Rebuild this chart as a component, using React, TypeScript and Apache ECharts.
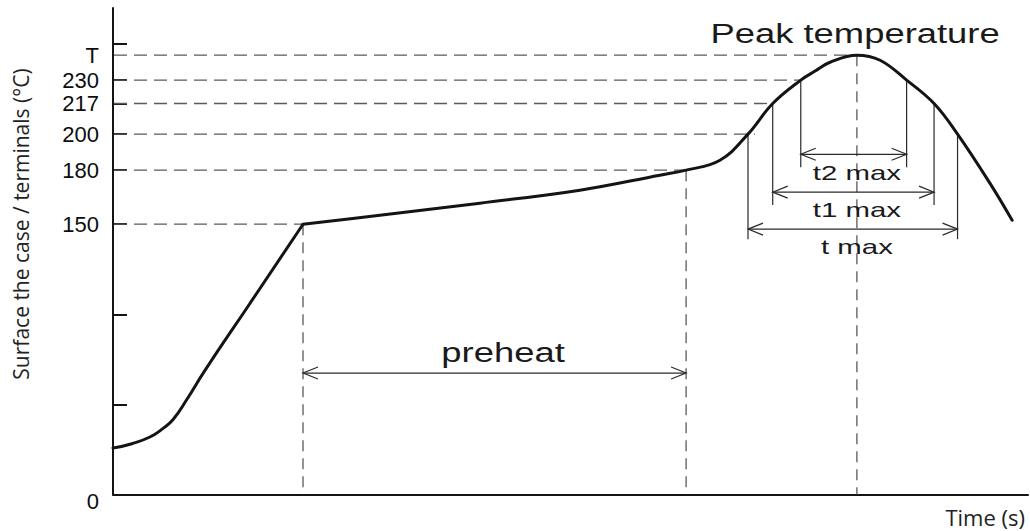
import React, { useEffect, useRef } from "react";
import * as echarts from "echarts";

// Reflow profile (time in arbitrary seconds, temperature in °C)
// Ramp-up part (ends at the start of preheat)
const rampTime = [0, 6.2, 12.1, 16.1, 19.7, 24.3, 30.0, 45.0, 62.3];
const rampTemp = [25.8, 28.2, 31.9, 36.3, 41.6, 53.0, 68.5, 106.3, 150];
// Preheat, reflow and cool-down part
const reflowTime = [62.3, 87.5, 120.3, 153.1, 179.3, 187.9, 199.0, 208.2, 216.3, 225.5, 230.2, 235.1, 243.9, 251.5, 260.2, 269.2, 276.9, 287.5, 294.8];
const reflowTemp = [150, 155.0, 161.7, 168.9, 177.2, 180, 185.5, 200, 217, 230, 235.0, 239.9, 243.8, 241.0, 230, 217, 200, 172.8, 152.2];

const peakTime = 243.9;
const peakTemp = 243.8;

// Y axis
const yTickValues = [50, 100, 150, 180, 200, 217, 230, 250];
const yLabelValues = [0, 150, 180, 200, 217, 230, peakTemp];

// Dashed horizontal guides: level and time where they end
const guideTemp = [150, 180, 200, 217, 230, peakTemp];
const guideTime = [62.3, 187.9, 210.5, 216.3, 225.5, peakTime];

// Dashed vertical drops
const dropTime = [62.3, 187.9, peakTime];
const dropTemp = [150, 180, peakTemp];

// Dimension spans
const spanLabels = ["preheat", "t2 max", "t1 max", "t max"];
const spanStart = [62.3, 225.5, 216.3, 208.2];
const spanEnd = [187.9, 260.2, 269.2, 276.9];
const spanLevel = [67.4, 188.8, 167.8, 147.3];
const spanLabelTime = [127.9, 243.9, 243.9, 243.9];
const spanLabelLevel = [79.0, 178.9, 158.3, 137.5];

// Witness lines of the spans
const witnessTime = [225.5, 260.2, 216.3, 269.2, 208.2, 276.9];
const witnessTemp = [230, 230, 217, 217, 200, 200];
const witnessFoot = [181.6, 181.6, 160.6, 160.6, 141.7, 141.7];

// Other annotation
const noteText = ["Peak temperature"];
const noteTime = [243.3];
const noteTemp = [256.0];

const INK = "#141414";
const DASH = "#5a5a5a";
const THIN = "#2a2a2a";
const STRETCH_FONT = "'Liberation Sans', Arial, Helvetica, sans-serif";

export default function App() {
  const ref = useRef<HTMLDivElement>(null);

  useEffect(() => {
    if (!ref.current) return;
    const chart = echarts.init(ref.current, null, { renderer: "svg" });

    const curveStyle = { color: INK, width: 3, cap: "round", join: "round" };

    const option: any = {
      animation: false,
      backgroundColor: "#ffffff",
      grid: { left: 113, right: 2, top: 8, bottom: 36.5, containLabel: false },
      xAxis: {
        type: "value",
        min: 0,
        max: 300,
        axisLine: { show: true, lineStyle: { color: INK, width: 2 } },
        axisTick: { show: false },
        axisLabel: { show: false },
        splitLine: { show: false },
      },
      yAxis: {
        type: "value",
        min: 0,
        max: 270,
        axisLine: { show: true, lineStyle: { color: INK, width: 2 } },
        axisTick: {
          show: true,
          inside: true,
          length: 14,
          customValues: yTickValues,
          lineStyle: { color: INK, width: 2 },
        },
        axisLabel: {
          show: true,
          customValues: yLabelValues,
          margin: 14,
          fontSize: 22,
          color: "#0d0d0d",
          fontFamily: STRETCH_FONT,
          formatter: (v: number) => (Math.abs(v - peakTemp) < 0.01 ? "T" : v === 0 ? "{z|0}" : String(v)),
          rich: { z: { fontSize: 22, fontFamily: STRETCH_FONT, color: "#0d0d0d", padding: [14, 0, 0, 0] } },
        },
        splitLine: { show: false },
      },
      graphic: [
        {
          type: "text",
          x: 21,
          y: 224,
          rotation: Math.PI / 2,
          style: {
            text: "Surface the case / terminals (°C)",
            fontSize: 21,
            fontFamily: "'Open Sans', sans-serif",
            fill: "#222",
            align: "center",
            verticalAlign: "middle",
          },
        },
        {
          type: "text",
          x: 1025,
          y: 517,
          style: {
            text: "Time (s)",
            fontSize: 22,
            fontFamily: "'Open Sans', sans-serif",
            fill: "#222",
            align: "right",
            verticalAlign: "middle",
          },
        },
      ],
      series: [
        {
          type: "custom",
          name: "guides",
          silent: true,
          data: guideTemp.map((t, i) => [guideTime[i], t]),
          renderItem: (params: any, api: any) => {
            const p = api.coord([api.value(0), api.value(1)]);
            const o = api.coord([0, api.value(1)]);
            return {
              type: "line",
              shape: { x1: o[0] + 1, y1: p[1], x2: p[0], y2: p[1] },
              style: { stroke: DASH, lineWidth: 1.3, lineDash: [13, 7] },
            };
          },
        },
        {
          type: "custom",
          name: "drops",
          silent: true,
          data: dropTime.map((t, i) => [t, dropTemp[i]]),
          renderItem: (params: any, api: any) => {
            const p = api.coord([api.value(0), api.value(1)]);
            const o = api.coord([api.value(0), 0]);
            return {
              type: "line",
              shape: { x1: p[0], y1: p[1], x2: p[0], y2: o[1] },
              style: { stroke: DASH, lineWidth: 1.3, lineDash: [11, 7] },
            };
          },
        },
        {
          type: "custom",
          name: "witness",
          silent: true,
          data: witnessTime.map((t, i) => [t, witnessTemp[i], witnessFoot[i]]),
          renderItem: (params: any, api: any) => {
            const a = api.coord([api.value(0), api.value(1)]);
            const b = api.coord([api.value(0), api.value(2)]);
            return {
              type: "line",
              shape: { x1: a[0], y1: a[1], x2: b[0], y2: b[1] },
              style: { stroke: THIN, lineWidth: 1.2 },
            };
          },
        },
        {
          type: "custom",
          name: "spans",
          silent: true,
          data: spanStart.map((s, i) => [s, spanEnd[i], spanLevel[i], spanLabelTime[i], spanLabelLevel[i]]),
          renderItem: (params: any, api: any) => {
            const i = params.dataIndex;
            const a = api.coord([api.value(0), api.value(2)]);
            const b = api.coord([api.value(1), api.value(2)]);
            const l = api.coord([api.value(3), api.value(4)]);
            const big = i === 0;
            const lineStyle = { stroke: THIN, lineWidth: 1.2, fill: null };
            return {
              type: "group",
              children: [
                { type: "line", shape: { x1: a[0], y1: a[1], x2: b[0], y2: b[1] }, style: lineStyle },
                {
                  type: "polyline",
                  shape: { points: [[a[0] + 15, a[1] - 6], [a[0], a[1]], [a[0] + 15, a[1] + 6]] },
                  style: lineStyle,
                },
                {
                  type: "polyline",
                  shape: { points: [[b[0] - 15, b[1] - 6], [b[0], b[1]], [b[0] - 15, b[1] + 6]] },
                  style: lineStyle,
                },
                {
                  type: "text",
                  x: l[0],
                  y: l[1],
                  scaleX: big ? 1.3 : 1.4,
                  style: {
                    text: spanLabels[i],
                    fontSize: big ? 28 : 21,
                    fontFamily: STRETCH_FONT,
                    fill: "#1a1a1a",
                    align: "center",
                    verticalAlign: "middle",
                  },
                },
              ],
            };
          },
        },
        {
          type: "custom",
          name: "notes",
          silent: true,
          data: noteTime.map((t, i) => [t, noteTemp[i]]),
          renderItem: (params: any, api: any) => {
            const p = api.coord([api.value(0), api.value(1)]);
            return {
              type: "text",
              x: p[0],
              y: p[1],
              scaleX: 1.3,
              style: {
                text: noteText[params.dataIndex],
                fontSize: 28,
                fontFamily: STRETCH_FONT,
                fill: "#1a1a1a",
                align: "center",
                verticalAlign: "middle",
              },
            };
          },
        },
        {
          type: "line",
          name: "ramp",
          data: rampTime.map((t, i) => [t, rampTemp[i]]),
          smooth: 0.5,
          showSymbol: false,
          symbol: "none",
          silent: true,
          lineStyle: curveStyle,
          z: 5,
        },
        {
          type: "line",
          name: "reflow",
          data: reflowTime.map((t, i) => [t, reflowTemp[i]]),
          smooth: 0.4,
          showSymbol: false,
          symbol: "none",
          silent: true,
          lineStyle: curveStyle,
          z: 5,
        },
      ],
    };

    chart.setOption(option);
    return () => chart.dispose();
  }, []);

  return (
    <div
      ref={ref}
      style={{ position: "absolute", left: 0, top: 0, width: 1030, height: 531, background: "#fff" }}
    />
  );
}
